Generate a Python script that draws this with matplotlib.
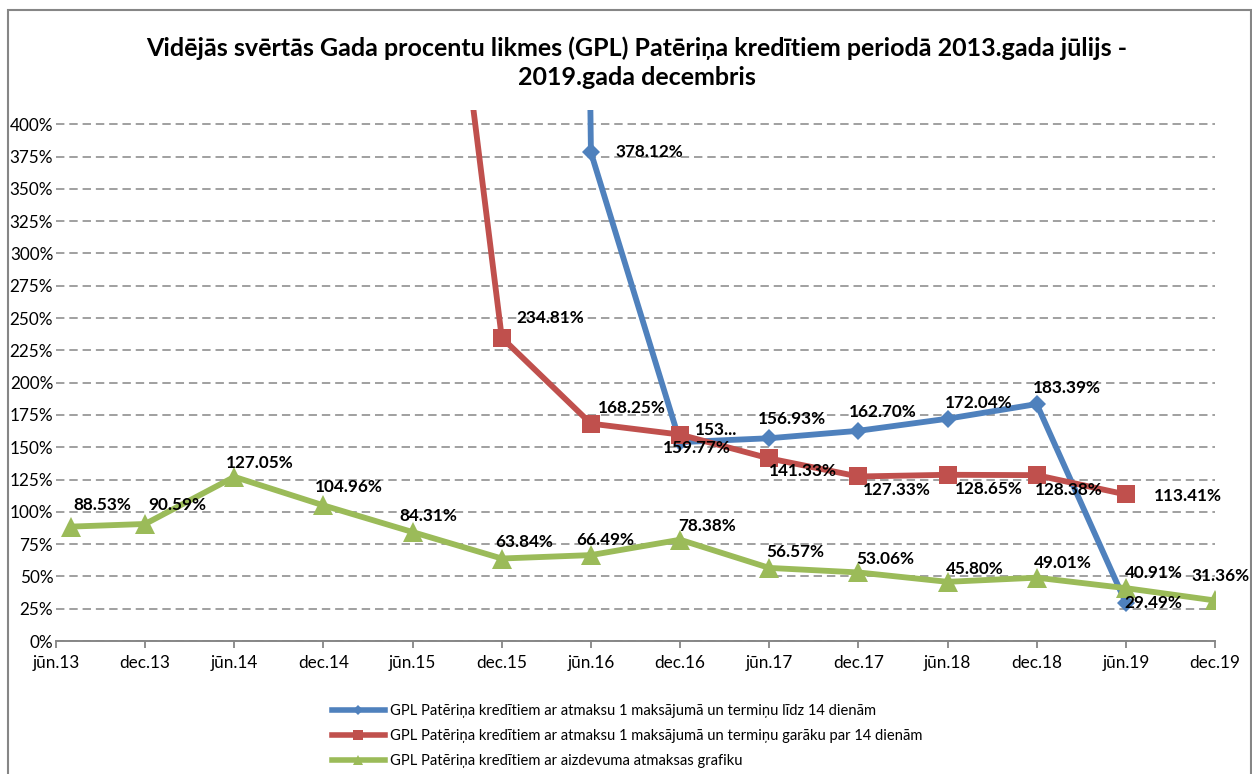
import numpy as np
import matplotlib
matplotlib.use("Agg")
import matplotlib.pyplot as plt
from matplotlib.lines import Line2D
from matplotlib.patches import Rectangle

plt.rcParams['font.family'] = ['Lato', 'Noto Sans', 'DejaVu Sans']

# ---------------- data ----------------
title = ("Vidējās svērtās Gada procentu likmes (GPL) Patēriņa kredītiem periodā 2013.gada jūlijs -\n"
         "2019.gada decembris")
tick_labels = ['jūn.13', 'dec.13', 'jūn.14', 'dec.14', 'jūn.15', 'dec.15', 'jūn.16',
               'dec.16', 'jūn.17', 'dec.17', 'jūn.18', 'dec.18', 'jūn.19', 'dec.19']
tick_months = [0, 6, 12, 18, 24, 30, 36, 42, 48, 54, 60, 66, 72, 78]   # months since jūn.13
point_months = [1, 6, 12, 18, 24, 30, 36, 42, 48, 54, 60, 66, 72, 78]  # jūl.13 ... dec.19

nan = np.nan
blue_vals = [nan, nan, nan, nan, nan, 6000.0, 378.12, 153.9, 156.93, 162.70, 172.04, 183.39, 29.49, nan]
red_vals = [nan, nan, nan, nan, 790.0, 234.81, 168.25, 159.77, 141.33, 127.33, 128.65, 128.38, 113.41, nan]
green_vals = [88.53, 90.59, 127.05, 104.96, 84.31, 63.84, 66.49, 78.38, 56.57, 53.06, 45.80, 49.01, 40.91, 31.36]
blue_truncated = [7]   # label shown truncated as "153..."

series_names = [
    "GPL Patēriņa kredītiem ar atmaksu 1 maksājumā un termiņu līdz 14 dienām",
    "GPL Patēriņa kredītiem ar atmaksu 1 maksājumā un termiņu garāku par 14 dienām",
    "GPL Patēriņa kredītiem ar aizdevuma atmaksas grafiku",
]

# ---------------- styling ----------------
W, H = 1252, 774
colors = ['#4F81BD', '#C0504D', '#9BBB59']
markers = ['D', 's', '^']
msizes = [9.5, 13, 14]
# label offsets (image pixels: dx right, dy down)
blue_off = [None]*5 + [(0, 0), (58, 0), (36, -12), (23, -19), (24, -19), (31, -16), (30, -16), (27, 0), None]
red_off = [None]*4 + [(0, 0), (48, -20), (41, -16), (17, 13), (34, 13), (38, 14), (41, 14), (32, 15), (62, 2), None]
green_off = [(31, -22), (32, -19), (25, -14), (25, -18), (16, -16), (22, -17), (14, -15),
             (27, -14), (26, -16), (27, -13), (27, -13), (26, -15), (28, -15), (6, -24)]

fig = plt.figure(figsize=(W/100, H/100), dpi=100)
ax = fig.add_axes([56/W, (H-641)/H, (1215-56)/W, (641-110)/H])

YTOP = 411
ax.set_xlim(tick_months[0], tick_months[-1])
ax.set_ylim(0, YTOP)

x = np.array(point_months, dtype=float)
all_vals = [blue_vals, red_vals, green_vals]
all_offs = [blue_off, red_off, green_off]
for i, (vals, c, m, ms) in enumerate(zip(all_vals, colors, markers, msizes)):
    ax.plot(x, vals, color=c, lw=4.2, marker=m, markersize=ms, markeredgewidth=0,
            zorder=3 + i, solid_joinstyle='miter', clip_on=True)

# data labels
for i, (vals, offs) in enumerate(zip(all_vals, all_offs)):
    for j, v in enumerate(vals):
        if np.isnan(v) or v > YTOP:
            continue
        if i == 0 and j in blue_truncated:
            txt = f"{int(v)}..."
        else:
            txt = f"{v:.2f}%"
        dx, dy = offs[j]
        ax.annotate(txt, (x[j], v), xytext=(dx, -dy), textcoords='offset pixels',
                    ha='center', va='center', fontsize=12.3, fontweight='bold',
                    color='black', zorder=10, annotation_clip=False)

# axes styling
yt = np.arange(0, 401, 25)
ax.set_yticks(yt)
ax.set_yticklabels([f"{t}%" for t in yt])
ax.set_xticks(tick_months)
ax.set_xticklabels(tick_labels)
ax.tick_params(axis='y', length=0, pad=2, labelsize=12.3, labelcolor='black')
ax.tick_params(axis='x', length=5, width=1.3, color='#868686', direction='out',
               pad=5, labelsize=12.3, labelcolor='black')
for s in ['top', 'right', 'left']:
    ax.spines[s].set_visible(False)
ax.spines['bottom'].set_color('#868686')
ax.spines['bottom'].set_linewidth(1.4)
ax.yaxis.grid(True, color='#868686', linestyle=(0, (5.5, 3.2)), linewidth=1.1)
ax.set_axisbelow(True)
ax.patch.set_alpha(0)

# title
fig.text(637/W, 1 - 63/H, title, ha='center', va='center', fontsize=18,
         fontweight='bold', linespacing=1.3)

# legend
handles = [Line2D([0], [0], color=c, lw=4, marker=m, markersize=s*0.5, markeredgewidth=0)
           for c, m, s in zip(colors, markers, msizes)]
fig.legend(handles, series_names, loc='upper left', bbox_to_anchor=(326/W, 1 - 698/H),
           frameon=False, fontsize=10.6, handlelength=3.6, handletextpad=0.35,
           labelspacing=0.75, borderaxespad=0)

# chart border
fig.patches.append(Rectangle((8/W, -0.01), (1251-8)/W, (H-10)/H + 0.01, transform=fig.transFigure,
                             fill=False, edgecolor='#868686', linewidth=1.5))

fig.savefig('out.png', dpi=100)
